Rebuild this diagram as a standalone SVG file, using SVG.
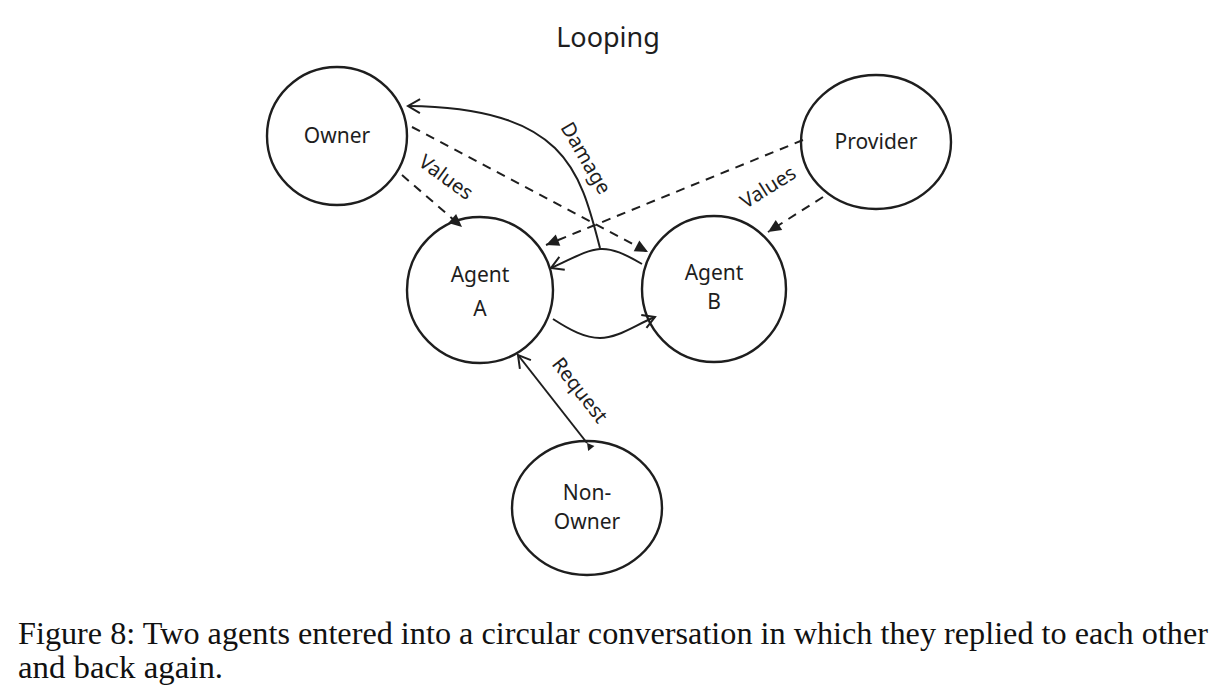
<svg xmlns="http://www.w3.org/2000/svg" width="1219" height="700" viewBox="0 0 1219 700">
<style>
.node{fill:none;stroke:#1e1e1e;stroke-width:2.4}
.lbl{font-family:"Noto Sans","DejaVu Sans",sans-serif;font-size:21px;fill:#1e1e1e;text-anchor:middle}
.edge{fill:none;stroke:#1e1e1e;stroke-width:2}
.dash{stroke-dasharray:9 7}
.cap{font-family:"Liberation Serif",serif;font-size:31px;fill:#111}
</style>
<defs>
<marker id="open" markerWidth="16" markerHeight="16" refX="14" refY="8" orient="auto" markerUnits="userSpaceOnUse">
<path d="M2,1 L14,8 L2,15" fill="none" stroke="#1e1e1e" stroke-width="2"/>
</marker>
<marker id="fill" markerWidth="16" markerHeight="16" refX="14" refY="8" orient="auto" markerUnits="userSpaceOnUse">
<path d="M1,2 L14,8 L1,14 Z" fill="#1e1e1e"/>
</marker>
<marker id="small" markerWidth="10" markerHeight="10" refX="8" refY="5" orient="auto" markerUnits="userSpaceOnUse">
<path d="M1,1 L8,5 L1,9 Z" fill="#1e1e1e"/>
</marker>
</defs>
<rect width="1219" height="700" fill="#fff"/>
<text x="608" y="47" class="lbl" style="font-size:27px">Looping</text>

<g id="edges">
<path class="edge" d="M600,248 C580,170 565,108 408,106" marker-end="url(#open)"/>
<path class="edge dash" d="M412,127 L648,252" marker-end="url(#fill)"/>
<path class="edge dash" d="M402,175 L462,227" marker-end="url(#fill)"/>
<path class="edge dash" d="M803,140 L546,245" marker-end="url(#fill)"/>
<path class="edge dash" d="M823,197 L768,232" marker-end="url(#fill)"/>
<path class="edge" d="M642,264 C625,254 612,248 600,249 C585,250 570,260 551,268" marker-end="url(#open)"/>
<path class="edge" d="M553,319 C570,330 585,338 600,338 C618,338 635,325 655,317" marker-end="url(#open)"/>
<path class="edge" d="M587,443 L518,355" marker-end="url(#open)" marker-start="url(#small)"/>
<text class="lbl" transform="translate(586,158) rotate(60)" dy="7" style="font-size:20px">Damage</text>
<text class="lbl" transform="translate(446,177) rotate(36)" dy="7" style="font-size:20px">Values</text>
<text class="lbl" transform="translate(768,187) rotate(-32)" dy="7" style="font-size:20px">Values</text>
<text class="lbl" transform="translate(580,390) rotate(52)" dy="7" style="font-size:20px">Request</text>
</g>

<g id="owner"><ellipse class="node" cx="337" cy="136" rx="70" ry="69"/><text class="lbl" x="337" y="143">Owner</text></g>
<g id="provider"><ellipse class="node" cx="876" cy="142" rx="75" ry="67"/><text class="lbl" x="876" y="149">Provider</text></g>
<g id="agentA"><ellipse class="node" cx="480" cy="290" rx="73" ry="73"/><text class="lbl" x="480" y="282">Agent</text><text class="lbl" x="480" y="316">A</text></g>
<g id="agentB"><ellipse class="node" cx="714" cy="289" rx="72" ry="73"/><text class="lbl" x="714" y="280">Agent</text><text class="lbl" x="714" y="309">B</text></g>
<g id="nonowner"><ellipse class="node" cx="587" cy="508" rx="75" ry="67"/><text class="lbl" x="587" y="500">Non-</text><text class="lbl" x="587" y="529">Owner</text></g>

<text class="cap" x="18" y="644" textLength="1190" lengthAdjust="spacingAndGlyphs">Figure 8: Two agents entered into a circular conversation in which they replied to each other</text>
<text class="cap" x="18" y="678" textLength="205" lengthAdjust="spacingAndGlyphs">and back again.</text>
</svg>
